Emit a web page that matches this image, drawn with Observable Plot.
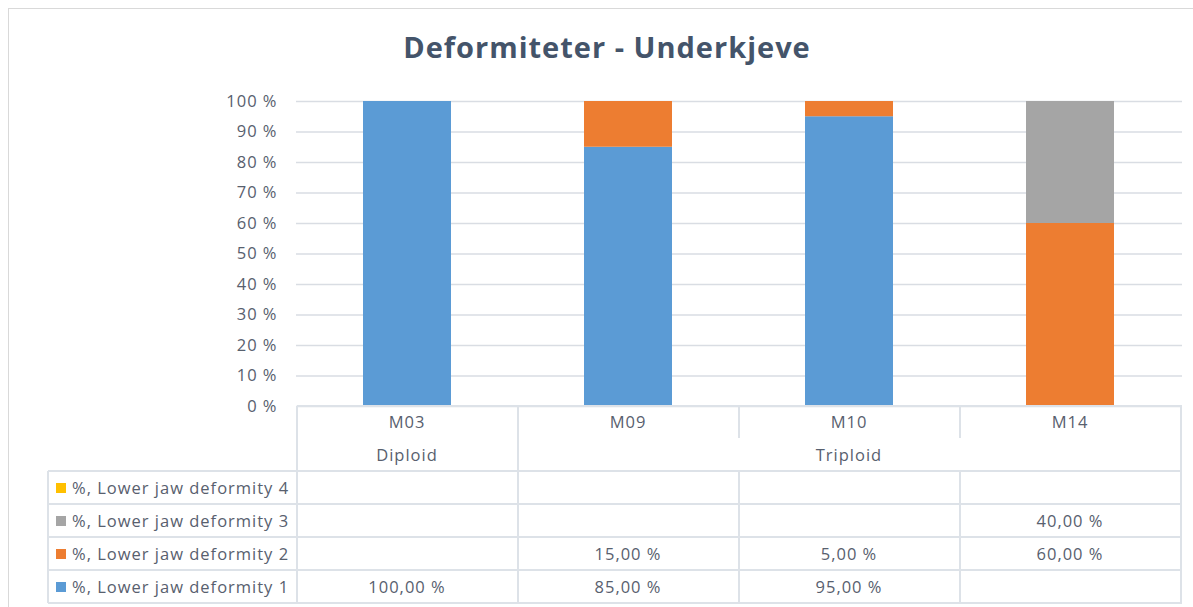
<!DOCTYPE html>
<html>
<head>
<meta charset="utf-8">
<script src="https://cdn.jsdelivr.net/npm/d3@7"></script>
<script src="https://cdn.jsdelivr.net/npm/@observablehq/plot@0.6"></script>
<style>
  html, body { margin: 0; padding: 0; background: #fff; }
  #wrap { position: relative; width: 1193px; height: 607px; overflow: hidden; background: #fff; font-family: "Open Sans", Lato, sans-serif; color: #58606e; }
  #frame { position: absolute; left: 8px; top: 8px; width: 1400px; height: 800px; border-left: 1px solid #d9d9d9; border-top: 1px solid #d9d9d9; }
  #title { position: absolute; left: 0; width: 1214px; top: 27px; text-align: center; font-size: 29px; letter-spacing: 1px; line-height: 40px; font-weight: bold; color: #44546a; }
  #chart { position: absolute; left: 0; top: 0; }
  .ln { position: absolute; background: #dde2e8; }
  .tx { position: absolute; font-size: 16.5px; letter-spacing: 1px; white-space: nowrap; line-height: 20px; transform: translate(-50%, -50%); }
  .lab { position: absolute; font-size: 16.5px; letter-spacing: 1px; white-space: nowrap; line-height: 20px; transform: translateY(-50%); }
  .sw { position: absolute; width: 10px; height: 10px; }
</style>
</head>
<body>
<div id="wrap">
  <div id="frame"></div>
  <div id="title">Deformiteter - Underkjeve</div>
  <div id="chart"></div>
</div>
<script>
// ---- data ----
const categories = ["M03", "M09", "M10", "M14"];
const groups = ["Diploid", "Triploid", "Triploid", "Triploid"];
const seriesNames = [
  "%, Lower jaw deformity 1",
  "%, Lower jaw deformity 2",
  "%, Lower jaw deformity 3",
  "%, Lower jaw deformity 4"
];
const deformity1 = [100, 85, 95, null];
const deformity2 = [null, 15, 5, 60];
const deformity3 = [null, null, null, 40];
const deformity4 = [null, null, null, null];
const seriesColors = ["#5b9bd5", "#ed7d31", "#a5a5a5", "#ffc000"];
const yTicks = [0, 10, 20, 30, 40, 50, 60, 70, 80, 90, 100];

const seriesValues = [deformity1, deformity2, deformity3, deformity4];
const rows = [];
seriesNames.forEach((s, si) => {
  categories.forEach((c, ci) => {
    const v = seriesValues[si][ci];
    if (v != null) rows.push({category: c, series: s, value: v});
  });
});

const chart = Plot.plot({
  width: 1193,
  height: 420,
  marginTop: 101,
  marginBottom: 14,
  marginLeft: 296,
  marginRight: 11,
  style: {fontFamily: "'Open Sans', Lato, sans-serif", fontSize: "16.5px", letterSpacing: "1px", color: "#58606e", background: "transparent"},
  x: {domain: categories, paddingInner: 0.6, paddingOuter: 0.3, axis: null},
  y: {domain: [0, 100]},
  color: {domain: seriesNames, range: seriesColors},
  marks: [
    Plot.ruleY(yTicks, {stroke: "#d9dde3", strokeWidth: 1.5}),
    Plot.barY(rows, Plot.stackY({x: "category", y: "value", fill: "series", order: seriesNames})),
    Plot.axisY({ticks: yTicks, tickSize: 0, tickPadding: 19, tickFormat: d => d + " %", fill: "#58606e", fontSize: 16.5, label: null})
  ]
});
document.getElementById("chart").appendChild(chart);

// ---- data table under the chart, aligned on the Plot x scale ----
const wrap = document.getElementById("wrap");
const xs = chart.scale("x");
const step = xs.step, bw = xs.bandwidth;
const colLeft = c => xs.apply(c) + bw / 2 - step / 2;
const colCenter = c => xs.apply(c) + bw / 2;
const tableTop = 406, headRow = 32, groupRowEnd = 471, rowH = 33;
const labelLeft = 48;
const tableLeft = colLeft(categories[0]);
const tableRight = colLeft(categories[categories.length - 1]) + step;

function line(x, y, w, h) {
  const d = document.createElement("div");
  d.className = "ln";
  d.style.left = x + "px"; d.style.top = y + "px";
  d.style.width = w + "px"; d.style.height = h + "px";
  wrap.appendChild(d);
}
function text(cls, x, y, s) {
  const d = document.createElement("div");
  d.className = cls;
  d.style.left = x + "px"; d.style.top = y + "px";
  d.textContent = s;
  wrap.appendChild(d);
  return d;
}
const bottom = groupRowEnd + rowH * seriesNames.length;
// horizontal lines
line(tableLeft, tableTop - 1, tableRight - tableLeft + 1, 2);
for (let r = 0; r <= seriesNames.length; r++) {
  line(labelLeft, groupRowEnd + r * rowH - 1, tableRight - labelLeft + 1, 2);
}
// vertical lines
line(labelLeft - 1, groupRowEnd, 2, bottom - groupRowEnd);
categories.forEach((c, i) => {
  const x = colLeft(c);
  const grpBoundary = i === 0 || groups[i] !== groups[i - 1];
  if (grpBoundary) line(x - 1, tableTop, 2, bottom - tableTop);
  else { line(x - 1, tableTop, 2, headRow); line(x - 1, groupRowEnd, 2, bottom - groupRowEnd); }
});
line(tableRight - 1, tableTop, 2, bottom - tableTop);

// category header
categories.forEach(c => text("tx", colCenter(c), tableTop + 16, c));
// group header
const groupSpans = [];
groups.forEach((g, i) => {
  const last = groupSpans[groupSpans.length - 1];
  if (last && last.name === g) last.end = i; else groupSpans.push({name: g, start: i, end: i});
});
groupSpans.forEach(g => {
  const x0 = colLeft(categories[g.start]), x1 = colLeft(categories[g.end]) + step;
  text("tx", (x0 + x1) / 2, tableTop + headRow + 17, g.name);
});
// rows (top row = last series)
const fmt = v => v.toFixed(2).replace(".", ",") + " %";
for (let r = 0; r < seriesNames.length; r++) {
  const si = seriesNames.length - 1 - r;
  const cy = groupRowEnd + r * rowH + rowH / 2;
  const sw = document.createElement("div");
  sw.className = "sw";
  sw.style.left = "56px"; sw.style.top = (cy - 5) + "px";
  sw.style.background = seriesColors[si];
  wrap.appendChild(sw);
  text("lab", 72, cy, seriesNames[si]);
  categories.forEach((c, ci) => {
    const v = seriesValues[si][ci];
    if (v != null) text("tx", colCenter(c), cy, fmt(v));
  });
}
</script>
</body>
</html>
